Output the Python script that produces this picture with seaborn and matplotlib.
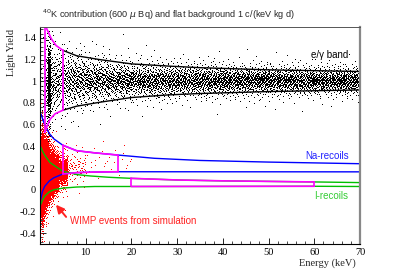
import numpy as np
import pandas as pd
import seaborn as sns
import matplotlib
matplotlib.use("Agg")
import matplotlib.pyplot as plt
from matplotlib.ticker import MultipleLocator, FixedLocator, FixedFormatter

# ---------------- data ----------------
# e/gamma band limits
eg_up_E = [1.0, 1.3, 2.5, 3.5, 5, 8, 13, 20, 28, 35, 50, 70]
eg_up_y = [1.58, 1.50, 1.39, 1.33, 1.285, 1.235, 1.20, 1.16, 1.14, 1.125, 1.105, 1.09]
eg_lo_E = [1.0, 2.2, 3.3, 5, 8, 13, 20, 28, 35, 50, 70]
eg_lo_y = [0.53, 0.65, 0.70, 0.733, 0.77, 0.806, 0.85, 0.874, 0.887, 0.905, 0.92]
# Na recoil band limits
na_up_E = [0.2, 1, 2, 3, 5, 8, 12, 17, 25, 35, 50, 70]
na_up_y = [0.70, 0.60, 0.52, 0.47, 0.41, 0.36, 0.34, 0.32, 0.29, 0.27, 0.255, 0.24]
na_lo_E = [0.1, 0.5, 1, 2, 3, 5, 8, 12, 17, 70]
na_lo_y = [-0.10, -0.02, 0.03, 0.08, 0.11, 0.145, 0.158, 0.163, 0.166, 0.165]
# I recoil band limits
i_up_E = [0.1, 0.5, 1, 2.2, 5, 8, 11, 15, 20, 30, 40, 60, 70]
i_up_y = [0.40, 0.36, 0.32, 0.25, 0.17, 0.14, 0.127, 0.115, 0.105, 0.09, 0.082, 0.072, 0.066]
i_lo_E = [0.1, 0.5, 1, 2, 3, 5, 8, 12, 20, 60, 70]
i_lo_y = [-0.14, -0.10, -0.06, -0.02, 0.0, 0.015, 0.025, 0.03, 0.03, 0.032, 0.03]
# acceptance boxes (energy ranges)
box_eg = [1.0, 5]
box_na = [5, 17]
box_i = [20, 60]

# black events (40K + flat background): histogram
blk_edges = [0.3, 1, 1.6, 2.3, 3, 4, 5, 7, 10, 15, 20, 30, 40, 50, 60, 70, 72]
blk_counts = [15, 60, 380, 70, 80, 80, 160, 240, 380, 380, 760, 780, 800, 800, 800, 160]
blk_center = [0.93, 0.97, 0.97, 0.98, 0.99, 1.0, 1.0, 1.0, 1.0, 1.0, 1.0, 1.0, 1.0, 1.0, 1.0, 1.0]
blk_sigma = [0.26, 0.23, 0.21, 0.19, 0.17, 0.16, 0.14, 0.125, 0.105, 0.09, 0.08, 0.072, 0.067, 0.064, 0.062, 0.062]
# red events (WIMP simulation)
red_edges = [0.2, 0.6, 1, 1.5, 2, 3, 4, 6, 10, 20]
red_counts = [4000, 4500, 3900, 2900, 2900, 1200, 600, 80, 28]
red_center = [0.12, 0.13, 0.14, 0.15, 0.15, 0.15, 0.16, 0.2, 0.26]
red_sigma = [0.14, 0.12, 0.105, 0.095, 0.085, 0.075, 0.07, 0.08, 0.08]

x_ticks = [0, 10, 20, 30, 40, 50, 60, 70]
x_labels = ["", "10", "20", "30", "40", "50", "60", "70"]
y_ticks = [-0.4, -0.2, 0, 0.2, 0.4, 0.6, 0.8, 1.0, 1.2, 1.4]
y_labels = ["-0.4", "-0.2", "0", "0.2", "0.4", "0.6", "0.8", "1", "1.2", "1.4"]


def halton(idx, base):
    r = np.zeros(len(idx))
    i = idx.astype(float).copy()
    f = 1.0
    while (i > 0).any():
        f /= base
        r += f * (i % base)
        i = np.floor(i / base)
    return r


def cloud(edges, counts, centers, sigmas, start):
    Es, Ys = [], []
    k = start
    for j, n in enumerate(counts):
        idx = np.arange(k + 1, k + 1 + n)
        k += n
        u = halton(idx * 7 + 3, 5)
        v = halton(idx * 11 + 5, 3)
        v = np.clip(v, 1e-4, 1 - 1e-4)
        E = edges[j] + (edges[j + 1] - edges[j]) * u
        z = np.log(v / (1 - v)) * np.sqrt(3) / np.pi
        Es.append(E)
        Ys.append(centers[j] + sigmas[j] * z)
    return pd.DataFrame({"E": np.concatenate(Es), "LY": np.concatenate(Ys)})


blk = cloud(blk_edges, blk_counts, blk_center, blk_sigma, 17)
red = cloud(red_edges, red_counts, red_center, red_sigma, 40000)

# ---------------- figure ----------------
sns.set_theme(style="white")
plt.rcParams["font.family"] = ["Liberation Serif", "DejaVu Serif"]

fig = plt.figure(figsize=(3.99, 2.72), dpi=100)
ax = fig.add_axes([40 / 399, 1 - 244 / 272, 320 / 399, 217 / 272])

# single-pixel events
sns.lineplot(data=blk, x="E", y="LY", sort=False, estimator=None, color="black",
             linestyle="none", marker=",", ax=ax, legend=False)
sns.lineplot(data=red, x="E", y="LY", sort=False, estimator=None, color="#ff0000",
             linestyle="none", marker=",", ax=ax, legend=False)


def line(xs, ys, color, lw, mask=None):
    d = pd.DataFrame({"E": xs, "y": ys})
    if mask is not None:
        d = d[(d.E >= mask[0] - 1e-9) & (d.E <= mask[1] + 1e-9)]
    sns.lineplot(data=d, x="E", y="y", color=color, lw=lw, sort=False,
                 estimator=None, ax=ax, legend=False)


BLUE, GREEN, MAG = "#0000ff", "#00c000", "#ff00ff"
line(eg_up_E, eg_up_y, "black", 1.0, (box_eg[1], 70))
line(eg_lo_E, eg_lo_y, "black", 1.0, (box_eg[1], 70))
line(na_up_E, na_up_y, BLUE, 1.0)
line(na_lo_E, na_lo_y, BLUE, 1.0)
line(i_up_E, i_up_y, GREEN, 1.0)
line(i_lo_E, i_lo_y, GREEN, 1.0)

# magenta acceptance boxes
for (uE, uy, lE, ly, b) in [(eg_up_E, eg_up_y, eg_lo_E, eg_lo_y, box_eg),
                            (na_up_E, na_up_y, na_lo_E, na_lo_y, box_na),
                            (i_up_E, i_up_y, i_lo_E, i_lo_y, box_i)]:
    line(uE, uy, MAG, 1.2, b)
    line(lE, ly, MAG, 1.2, b)
    for e in b:
        ax.plot([e, e], [np.interp(e, lE, ly), np.interp(e, uE, uy)],
                color=MAG, lw=1.2)

ax.set_xlim(0, 70)
ax.set_ylim(-0.5, 1.5)
ax.set_xlabel("")
ax.set_ylabel("")

ax.xaxis.set_major_locator(FixedLocator(x_ticks))
ax.xaxis.set_major_formatter(FixedFormatter(x_labels))
ax.xaxis.set_minor_locator(MultipleLocator(2))
ax.yaxis.set_major_locator(FixedLocator(y_ticks))
ax.yaxis.set_major_formatter(FixedFormatter(y_labels))
ax.yaxis.set_minor_locator(MultipleLocator(0.04))
ax.tick_params(which="both", direction="in", labelsize=7.5, colors="black",
               bottom=True, left=True, top=False, right=False)
ax.tick_params(which="major", length=4, width=0.6, pad=3)
ax.tick_params(which="minor", length=2, width=0.5)

for s in ["left", "bottom"]:
    ax.spines[s].set_color("black")
    ax.spines[s].set_linewidth(0.8)
ax.spines["top"].set_color("#555555")
ax.spines["top"].set_linewidth(0.7)
ax.spines["right"].set_color("#888888")
ax.spines["right"].set_linewidth(1.6)

sans = ["Liberation Sans", "DejaVu Sans"]
fig.text(42 / 399, 1 - 15 / 272, r"$^{40}$K contribution (600 $\mu$ Bq) and flat background 1 c/(keV kg d)",
         family=sans, fontsize=6.6, ha="left", va="center")
fig.text(12 / 399, 1 - 52 / 272, "Light Yield", rotation=90, fontsize=7.5,
         ha="center", va="center")
fig.text(356 / 399, 1 - 263 / 272, "Energy (keV)", fontsize=7.5, ha="right", va="center")

ax.text(59.3, 1.24, "e/\u03b3 band", family=sans, fontsize=7, color="black",
        ha="left", va="center")
ax.text(58.0, 0.31, "Na-recoils", family=sans, fontsize=7, color="#2222ff",
        ha="left", va="center")
ax.text(60.0, -0.06, "I-recoils", family=sans, fontsize=7, color="#33cc33",
        ha="left", va="center")
ax.text(6.6, -0.29, "WIMP events from simulation", family=sans, fontsize=7,
        color="#ff2020", ha="left", va="center")
ax.annotate("", xy=(3.1, -0.118), xytext=(6.1, -0.27),
            arrowprops=dict(arrowstyle="-|>,head_length=0.4,head_width=0.2",
                            color="#ff2020", lw=1.4))

fig.savefig("out.png", dpi=100, facecolor="white")
